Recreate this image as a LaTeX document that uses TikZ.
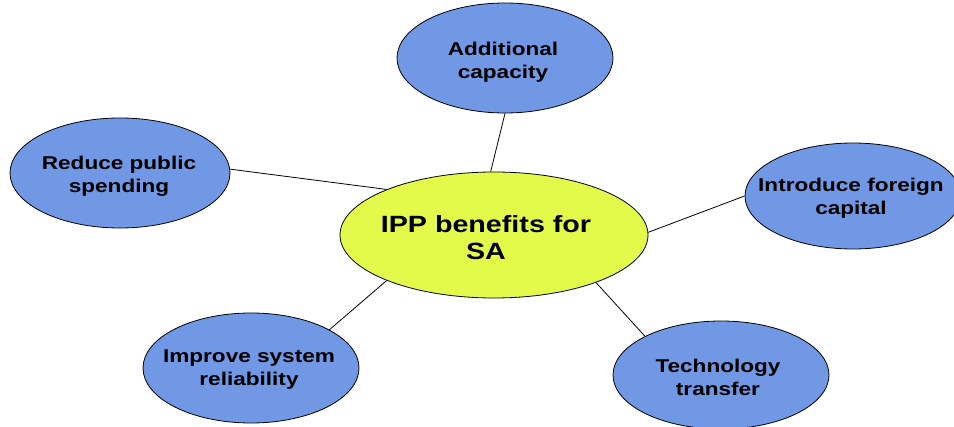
\documentclass[tikz,border=0pt]{standalone}
\usepackage{fontspec}
\newfontfamily\lblfont[FakeStretch=1.22]{Liberation Sans}
\usetikzlibrary{shapes.geometric}
\definecolor{bubblue}{RGB}{113,152,228}
\definecolor{hubgreen}{RGB}{228,250,74}
\tikzset{
  bub/.style={ellipse, draw=black, line width=0.8pt, fill=bubblue, inner sep=0pt},
  hub/.style={ellipse, draw=black, line width=0.8pt, fill=hubgreen, inner sep=0pt,
    minimum width=308pt, minimum height=126pt},
  lbl/.style={align=center, inner sep=0pt, font=\lblfont\bfseries\fontsize{18.5}{23}\selectfont},
  hublbl/.style={align=center, inner sep=0pt, font=\lblfont\bfseries\fontsize{23.5}{27}\selectfont},
  link/.style={draw=black, line width=0.8pt}
}
\begin{document}
\begin{tikzpicture}[x=1pt,y=-1pt]
\useasboundingbox[fill=white] (0,0) rectangle (954,427);
\node[hub] (c) at (494,235) {};
\node[bub, minimum width=216pt, minimum height=110pt] (t) at (505,58) {};
\node[bub, minimum width=220pt, minimum height=110pt] (l) at (120,173) {};
\node[bub, minimum width=216pt, minimum height=106pt] (r) at (853,196) {};
\node[bub, minimum width=216pt, minimum height=110pt] (bl) at (251,368) {};
\node[bub, minimum width=216pt, minimum height=108pt] (br) at (721,375) {};
\path[link] (c.93) -- (t.270);
\path[link] (c.157.7) -- (l.2.6);
\path[link] (c.1) -- (r.180);
\path[link] (c.203.4) -- (bl.26.6);
\path[link] (c.335.7) -- (br.153.4);
\node[hublbl] (ct) at (486,238) {IPP benefits for\\SA};
\node[lbl] (tt) at (503,62) {Additional\\capacity};
\node[lbl] (lt) at (119,176) {Reduce public\\spending};
\node[lbl] (rt) at (851,198) {Introduce foreign\\capital};
\node[lbl] (blt) at (249,370) {Improve system\\reliability};
\node[lbl] (brt) at (718,377) {Technology\\transfer};
\end{tikzpicture}
\end{document}
